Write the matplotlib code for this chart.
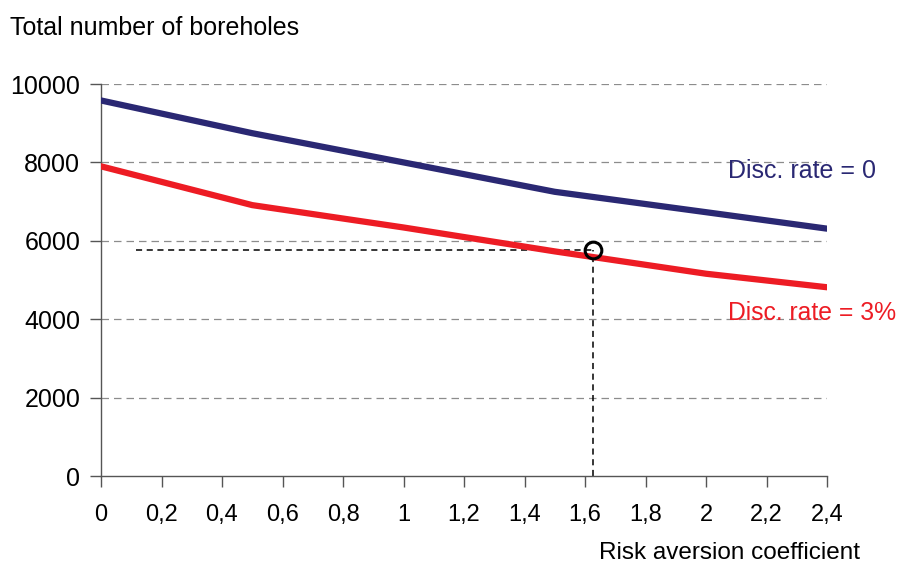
import numpy as np
import matplotlib
matplotlib.use("Agg")
import matplotlib.pyplot as plt

# donnees
risk = [0, 0.5, 1.0, 1.5, 2.0, 2.4]
disc_0 = [9580, 8745, 8000, 7250, 6730, 6310]
disc_3 = [7900, 6910, 6340, 5730, 5160, 4815]

# point choisi
opt_x = 1.625
opt_y = 5775

xticks = [0, 0.2, 0.4, 0.6, 0.8, 1, 1.2, 1.4, 1.6, 1.8, 2, 2.2, 2.4]
xlabels = ["0", "0,2", "0,4", "0,6", "0,8", "1", "1,2", "1,4", "1,6", "1,8", "2", "2,2", "2,4"]
yticks = [0, 2000, 4000, 6000, 8000, 10000]

plt.rcParams['font.family'] = ['Liberation Sans', 'DejaVu Sans']
navy = '#2a2873'
red = '#ed1c24'

fig = plt.figure(figsize=(8.98, 5.64), dpi=100)
ax = fig.add_axes([101 / 898, 88 / 564, (827 - 101) / 898, (476 - 84) / 564])

for y in yticks[1:]:
    ax.plot([0, 2.4], [y, y], color='#8c8c8c', lw=0.9, dashes=(6, 4), zorder=1)

ax.plot(risk, disc_0, color=navy, lw=4.5, solid_capstyle='round', zorder=3)
ax.plot(risk, disc_3, color=red, lw=4.5, solid_capstyle='round', zorder=3)

ax.plot([0.115, opt_x], [opt_y, opt_y], color='black', lw=1.1, dashes=(4, 3), zorder=2)
ax.plot([opt_x, opt_x], [0, opt_y], color='black', lw=1.1, dashes=(4, 3), zorder=2)
ax.plot([opt_x], [opt_y], 'o', ms=12, mfc='none', mec='black', mew=2.2, zorder=4)

ax.set_xlim(0, 2.4)
ax.set_ylim(0, 10000)
ax.set_xticks(xticks)
ax.set_xticklabels(xlabels)
ax.set_yticks(yticks)
ax.set_yticklabels([str(v) for v in yticks])
ax.tick_params(axis='x', direction='out', length=8, width=1, color='#555555',
               labelsize=17, pad=12)
ax.tick_params(axis='y', direction='out', length=8, width=1, color='#555555',
               labelsize=18, pad=7)
for s in ['top', 'right']:
    ax.spines[s].set_visible(False)
for s in ['left', 'bottom']:
    ax.spines[s].set_color('#555555')
    ax.spines[s].set_linewidth(1)

fig.text(10 / 898, 1 - 28 / 564, 'Total number of boreholes', fontsize=18, va='center', ha='left')
fig.text(860 / 898, 1 - 553 / 564, 'Risk aversion coefficient', fontsize=17.5, va='center', ha='right')
fig.text(728 / 898, 1 - 171 / 564, 'Disc. rate = 0', fontsize=18, color=navy, va='center', ha='left')
fig.text(728 / 898, 1 - 313 / 564, 'Disc. rate = 3%', fontsize=17.8, color=red, va='center', ha='left')

fig.savefig('out.png', dpi=100)
